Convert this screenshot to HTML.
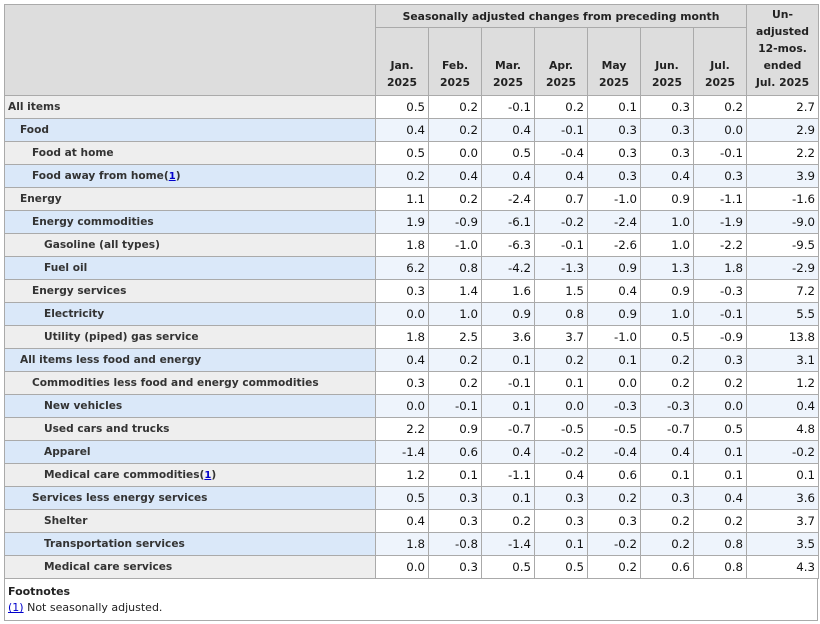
<!DOCTYPE html>
<html><head><meta charset="utf-8"><style>
body{margin:0;background:#fff;font-family:"DejaVu Sans","Liberation Sans",sans-serif;}
table{position:absolute;left:4px;top:4px;border-collapse:collapse;table-layout:fixed;width:814px;}
td,th{border:1px solid #aaa;font-size:10.6px;padding:0 3px;height:23px;box-sizing:border-box;}
th{background:#ddd;font-weight:bold;color:#222;text-align:center;line-height:17px;font-size:10.8px}
td{text-align:right;color:#111;font-size:11.8px}
td.l{text-align:left;font-weight:bold;color:#333;background:#eee;font-size:10.6px}
tr.b td{background:#eef4fc;}
tr.b td.l{background:#dae8f9;}
.i1{padding-left:15px}.i2{padding-left:27px}.i3{padding-left:39px}
a{color:#00c;font-size:10px;text-decoration:underline}
.fn{position:absolute;left:4px;top:578px;width:814px;height:43px;border:1px solid #aaa;border-top:none;box-sizing:border-box;font-size:11px;padding:6px 3px;line-height:16px;color:#222}
.fn a{font-size:11px}
</style></head><body>
<table>
<colgroup><col style="width:371px"><col style="width:53px"><col style="width:53px"><col style="width:53px"><col style="width:53px"><col style="width:53px"><col style="width:53px"><col style="width:53px"><col style="width:72px"></colgroup>
<tr><th rowspan="2" style="height:23px"></th><th colspan="7" style="height:23px">Seasonally adjusted changes from preceding month</th><th rowspan="2" style="vertical-align:bottom;padding-bottom:4px">Un-<br>adjusted<br>12-mos.<br>ended<br>Jul. 2025</th></tr>
<tr><th style="height:68px;vertical-align:bottom;padding-bottom:4px">Jan.<br>2025</th><th style="vertical-align:bottom;padding-bottom:4px">Feb.<br>2025</th><th style="vertical-align:bottom;padding-bottom:4px">Mar.<br>2025</th><th style="vertical-align:bottom;padding-bottom:4px">Apr.<br>2025</th><th style="vertical-align:bottom;padding-bottom:4px">May<br>2025</th><th style="vertical-align:bottom;padding-bottom:4px">Jun.<br>2025</th><th style="vertical-align:bottom;padding-bottom:4px">Jul.<br>2025</th></tr>
<tr><td class="l">All items</td><td>0.5</td><td>0.2</td><td>-0.1</td><td>0.2</td><td>0.1</td><td>0.3</td><td>0.2</td><td>2.7</td></tr>
<tr class="b"><td class="l i1">Food</td><td>0.4</td><td>0.2</td><td>0.4</td><td>-0.1</td><td>0.3</td><td>0.3</td><td>0.0</td><td>2.9</td></tr>
<tr><td class="l i2">Food at home</td><td>0.5</td><td>0.0</td><td>0.5</td><td>-0.4</td><td>0.3</td><td>0.3</td><td>-0.1</td><td>2.2</td></tr>
<tr class="b"><td class="l i2">Food away from home(<a>1</a>)</td><td>0.2</td><td>0.4</td><td>0.4</td><td>0.4</td><td>0.3</td><td>0.4</td><td>0.3</td><td>3.9</td></tr>
<tr><td class="l i1">Energy</td><td>1.1</td><td>0.2</td><td>-2.4</td><td>0.7</td><td>-1.0</td><td>0.9</td><td>-1.1</td><td>-1.6</td></tr>
<tr class="b"><td class="l i2">Energy commodities</td><td>1.9</td><td>-0.9</td><td>-6.1</td><td>-0.2</td><td>-2.4</td><td>1.0</td><td>-1.9</td><td>-9.0</td></tr>
<tr><td class="l i3">Gasoline (all types)</td><td>1.8</td><td>-1.0</td><td>-6.3</td><td>-0.1</td><td>-2.6</td><td>1.0</td><td>-2.2</td><td>-9.5</td></tr>
<tr class="b"><td class="l i3">Fuel oil</td><td>6.2</td><td>0.8</td><td>-4.2</td><td>-1.3</td><td>0.9</td><td>1.3</td><td>1.8</td><td>-2.9</td></tr>
<tr><td class="l i2">Energy services</td><td>0.3</td><td>1.4</td><td>1.6</td><td>1.5</td><td>0.4</td><td>0.9</td><td>-0.3</td><td>7.2</td></tr>
<tr class="b"><td class="l i3">Electricity</td><td>0.0</td><td>1.0</td><td>0.9</td><td>0.8</td><td>0.9</td><td>1.0</td><td>-0.1</td><td>5.5</td></tr>
<tr><td class="l i3">Utility (piped) gas service</td><td>1.8</td><td>2.5</td><td>3.6</td><td>3.7</td><td>-1.0</td><td>0.5</td><td>-0.9</td><td>13.8</td></tr>
<tr class="b"><td class="l i1">All items less food and energy</td><td>0.4</td><td>0.2</td><td>0.1</td><td>0.2</td><td>0.1</td><td>0.2</td><td>0.3</td><td>3.1</td></tr>
<tr><td class="l i2">Commodities less food and energy commodities</td><td>0.3</td><td>0.2</td><td>-0.1</td><td>0.1</td><td>0.0</td><td>0.2</td><td>0.2</td><td>1.2</td></tr>
<tr class="b"><td class="l i3">New vehicles</td><td>0.0</td><td>-0.1</td><td>0.1</td><td>0.0</td><td>-0.3</td><td>-0.3</td><td>0.0</td><td>0.4</td></tr>
<tr><td class="l i3">Used cars and trucks</td><td>2.2</td><td>0.9</td><td>-0.7</td><td>-0.5</td><td>-0.5</td><td>-0.7</td><td>0.5</td><td>4.8</td></tr>
<tr class="b"><td class="l i3">Apparel</td><td>-1.4</td><td>0.6</td><td>0.4</td><td>-0.2</td><td>-0.4</td><td>0.4</td><td>0.1</td><td>-0.2</td></tr>
<tr><td class="l i3">Medical care commodities(<a>1</a>)</td><td>1.2</td><td>0.1</td><td>-1.1</td><td>0.4</td><td>0.6</td><td>0.1</td><td>0.1</td><td>0.1</td></tr>
<tr class="b"><td class="l i2">Services less energy services</td><td>0.5</td><td>0.3</td><td>0.1</td><td>0.3</td><td>0.2</td><td>0.3</td><td>0.4</td><td>3.6</td></tr>
<tr><td class="l i3">Shelter</td><td>0.4</td><td>0.3</td><td>0.2</td><td>0.3</td><td>0.3</td><td>0.2</td><td>0.2</td><td>3.7</td></tr>
<tr class="b"><td class="l i3">Transportation services</td><td>1.8</td><td>-0.8</td><td>-1.4</td><td>0.1</td><td>-0.2</td><td>0.2</td><td>0.8</td><td>3.5</td></tr>
<tr><td class="l i3">Medical care services</td><td>0.0</td><td>0.3</td><td>0.5</td><td>0.5</td><td>0.2</td><td>0.6</td><td>0.8</td><td>4.3</td></tr>
</table>
<div class="fn"><b>Footnotes</b><br><a>(1)</a> Not seasonally adjusted.</div>
</body></html>
